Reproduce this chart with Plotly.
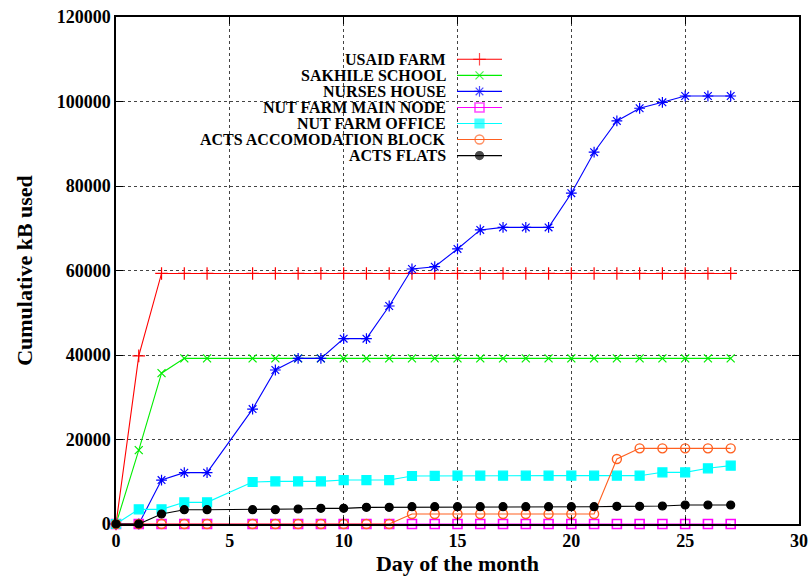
import plotly.graph_objects as go

days = [0, 1, 2, 3, 4, 6, 7, 8, 9, 10, 11, 12, 13, 14, 15, 16, 17, 18, 19, 20, 21, 22, 23, 24, 25, 26, 27]

usaid_farm = [0, 39800, 59300, 59300, 59300, 59300, 59300, 59300, 59300, 59300, 59300, 59300, 59300, 59300,
              59300, 59300, 59300, 59300, 59300, 59300, 59300, 59300, 59300, 59300, 59300, 59300, 59300]
sakhile_school = [0, 17500, 35700, 39200, 39200, 39200, 39200, 39200, 39200, 39200, 39200, 39200, 39200, 39200,
                  39200, 39200, 39200, 39200, 39200, 39200, 39200, 39200, 39200, 39200, 39200, 39200, 39200]
nurses_house = [0, 0, 10400, 12150, 12150, 27200, 36450, 39200, 39200, 43870, 43870, 51600, 60350, 60900,
                65100, 69600, 70200, 70200, 70200, 78300, 88000, 95400, 98400, 99800, 101300, 101300, 101300]
nut_farm_main_node = [0] * 27
nut_farm_office = [0, 3470, 3470, 5130, 5130, 9940, 10100, 10100, 10100, 10400, 10400, 10400, 11360, 11400,
                   11440, 11440, 11440, 11440, 11440, 11440, 11440, 11440, 11440, 12230, 12230, 13180, 13810]
acts_accomodation = [0, 0, 0, 0, 0, 0, 0, 0, 0, 0, 0, 0, 2370, 2370,
                     2370, 2370, 2370, 2370, 2370, 2370, 2370, 15380, 17900, 17900, 17900, 17900, 17900]
acts_flats = [0, 0, 2370, 3390, 3390, 3390, 3390, 3550, 3710, 3710, 3940, 3940, 4100, 4100,
              4100, 4100, 4100, 4100, 4100, 4100, 4100, 4180, 4180, 4260, 4500, 4500, 4500]

names = ["USAID FARM", "SAKHILE SCHOOL", "NURSES HOUSE", "NUT FARM MAIN NODE",
         "NUT FARM OFFICE", "ACTS ACCOMODATION BLOCK", "ACTS FLATS"]
series = [usaid_farm, sakhile_school, nurses_house, nut_farm_main_node,
          nut_farm_office, acts_accomodation, acts_flats]
colors = ["#ff0000", "#00ee00", "#0000ff", "#ff00ff", "#00ffff", "#ff6020", "#000000"]
symbols = ["cross-thin-open", "x-thin-open", "asterisk-open", "square-open",
           "square", "circle-open", "circle"]
sizes = [9, 8, 9, 9, 9, 9, 8]
widths = [1.2, 1.2, 1.2, 1.6, 1.2, 1.4, 1.2]

x_ticks = [0, 5, 10, 15, 20, 25, 30]
y_ticks = [0, 20000, 40000, 60000, 80000, 100000, 120000]

FONT = "Liberation Serif"

fig = go.Figure()
for name, ys, c, sym, sz, mw in zip(names, series, colors, symbols, sizes, widths):
    fig.add_trace(go.Scatter(
        x=days, y=ys, mode="lines+markers", name=name, showlegend=False, cliponaxis=False,
        line=dict(color=c, width=1.1),
        marker=dict(symbol=sym, size=sz, color=c, line=dict(color=c, width=mw)),
    ))

# custom gnuplot-style legend (text, then line sample to its right)
W, H = 683.0, 507.0
L, B = 116.0, 524.0
leg_x0 = (457 - L) / W
leg_x1 = (502 - L) / W
leg_xm = (leg_x0 + leg_x1) / 2
txt_x = (448 - L) / W
for i, (name, c, sym, sz, mw) in enumerate(zip(names, colors, symbols, sizes, widths)):
    ypx = 59.3 + i * 16.05
    yp = (B - ypx) / H
    fig.add_trace(go.Scatter(
        x=[leg_x0, leg_xm, leg_x1], y=[yp, yp, yp], xaxis="x2", yaxis="y2",
        mode="lines+markers", showlegend=False, hoverinfo="skip",
        line=dict(color=c, width=1.1),
        marker=dict(symbol=sym, size=[0, sz, 0], color=c, line=dict(color=c, width=mw)),
    ))
    fig.add_annotation(x=txt_x, y=yp, xref="paper", yref="paper", text="<b>%s</b>" % name,
                       showarrow=False, xanchor="right", yanchor="middle",
                       font=dict(family=FONT, size=16, color="black"))

axis_common = dict(
    showline=True, linecolor="black", linewidth=1.5, mirror="allticks",
    ticks="inside", ticklen=7, tickcolor="black", tickwidth=1,
    showgrid=True, gridcolor="#444444", griddash="dot", gridwidth=1,
    zeroline=False, automargin=False,
    tickfont=dict(family=FONT, size=18, color="black", weight="bold"),
)

fig.update_layout(
    width=809, height=579,
    margin=dict(l=116, r=10, t=17, b=55),
    paper_bgcolor="white", plot_bgcolor="white",
    xaxis=dict(range=[0, 30], tickvals=x_ticks, ticktext=[str(v) for v in x_ticks],
               title=dict(text="<b>Day of the month</b>", font=dict(family=FONT, size=22, color="black"),
                          standoff=4),
               **axis_common),
    yaxis=dict(range=[0, 120000], tickvals=y_ticks, ticktext=[str(v) for v in y_ticks],
               title=dict(text="<b>Cumulative kB used</b>", font=dict(family=FONT, size=22, color="black"),
                          standoff=18),
               **axis_common),
    xaxis2=dict(range=[0, 1], overlaying="x", visible=False, fixedrange=True),
    yaxis2=dict(range=[0, 1], overlaying="y", visible=False, fixedrange=True),
    showlegend=False,
)

fig.write_html("out.html", config={"displayModeBar": False},
               post_script="document.body.style.margin='0';document.body.style.overflow='hidden';")
